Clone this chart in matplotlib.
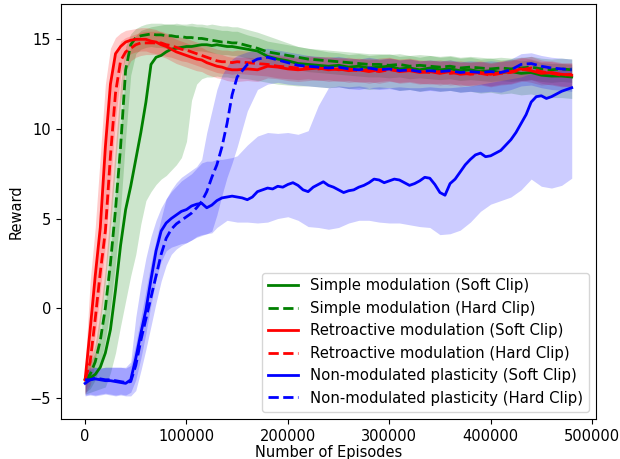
import matplotlib
matplotlib.use("Agg")
import matplotlib.pyplot as plt

# x grid (episodes) for bands and most curves
episodes = list(range(0, 150001, 5000)) + list(range(160000, 480001, 10000))
# finer x grid for the non-modulated soft-clip mean curve
episodes_fine = list(range(0, 480001, 5000))

# Simple modulation (Soft Clip)
gs_mean = [-4.0, -3.9, -3.7, -3.3, -2.5, -1.2, 1.0, 3.5, 5.5, 6.8, 8.3, 9.8, 11.5, 13.6, 14.0, 14.1, 14.3, 14.45, 14.5, 14.55, 14.6, 14.6, 14.65, 14.7, 14.7, 14.65, 14.7, 14.65, 14.6, 14.6, 14.55,
           14.45, 14.35, 14.05, 13.9, 13.8, 13.65, 13.6, 13.55, 13.5, 13.55, 13.45, 13.5, 13.4, 13.45, 13.5, 13.35, 13.4, 13.3, 13.4, 13.3, 13.35, 13.25, 13.3, 13.2, 13.25, 13.15, 13.2, 13.1, 13.15, 13.0, 12.95, 12.95, 12.9]
gs_hi = [-3.4, -3.0, -2.5, -1.5, 0.2, 3.0, 6.5, 10.0, 13.0, 14.6, 15.2, 15.5, 15.6, 15.7, 15.75, 15.8, 15.85, 15.85, 15.9, 15.85, 15.85, 15.9, 15.85, 15.85, 15.8, 15.85, 15.8, 15.75, 15.75, 15.7, 15.7,
         15.55, 15.4, 15.2, 15.0, 14.8, 14.6, 14.5, 14.4, 14.3, 14.25, 14.15, 14.2, 14.1, 14.15, 14.2, 14.05, 14.1, 14.0, 14.1, 14.0, 14.05, 13.95, 14.0, 13.9, 13.95, 13.85, 13.9, 13.8, 13.85, 13.7, 13.65, 13.65, 13.6]
gs_lo = [-4.8, -4.7, -4.6, -4.5, -4.4, -3.6, -2.5, -1.0, 0.4, 1.8, 3.0, 4.7, 6.0, 6.5, 6.9, 7.2, 7.4, 7.7, 8.0, 8.4, 9.3, 11.6, 12.5, 12.8, 12.9, 12.9, 12.95, 12.9, 12.9, 12.85, 12.85,
         12.8, 12.7, 12.6, 12.5, 12.45, 12.4, 12.4, 12.35, 12.3, 12.35, 12.25, 12.3, 12.2, 12.25, 12.3, 12.15, 12.2, 12.1, 12.2, 12.1, 12.15, 12.05, 12.1, 12.0, 12.05, 11.95, 12.0, 11.9, 11.95, 11.8, 11.75, 11.75, 11.7]

# Simple modulation (Hard Clip)
gh_mean = [-4.0, -3.7, -3.0, -1.8, 0.0, 2.5, 5.5, 9.0, 13.3, 14.7, 15.1, 15.2, 15.25, 15.3, 15.25, 15.25, 15.2, 15.2, 15.15, 15.15, 15.1, 15.1, 15.05, 15.05, 15.0, 14.95, 14.9, 14.85, 14.85, 14.8, 14.8,
           14.65, 14.5, 14.3, 14.2, 14.1, 14.0, 13.9, 13.85, 13.8, 13.75, 13.7, 13.65, 13.6, 13.6, 13.55, 13.6, 13.5, 13.55, 13.5, 13.45, 13.5, 13.4, 13.45, 13.4, 13.35, 13.4, 13.35, 13.4, 13.45, 13.35, 13.3, 13.35, 13.3]
gh_hi = [-3.4, -3.0, -2.0, -0.2, 2.2, 5.5, 9.0, 12.5, 14.6, 15.3, 15.6, 15.75, 15.85, 15.9, 15.9, 15.9, 15.85, 15.85, 15.8, 15.8, 15.75, 15.75, 15.7, 15.7, 15.65, 15.6, 15.55, 15.5, 15.5, 15.45, 15.45,
         15.25, 15.1, 14.9, 14.8, 14.7, 14.6, 14.5, 14.45, 14.4, 14.35, 14.3, 14.25, 14.2, 14.2, 14.15, 14.2, 14.1, 14.15, 14.1, 14.05, 14.1, 14.0, 14.05, 14.0, 13.95, 14.0, 13.95, 14.0, 14.05, 13.95, 13.9, 13.95, 13.9]
gh_lo = [-4.7, -4.5, -4.0, -3.2, -1.8, 0.0, 2.5, 5.5, 9.5, 13.0, 14.2, 14.45, 14.55, 14.6, 14.55, 14.55, 14.5, 14.5, 14.45, 14.45, 14.4, 14.4, 14.35, 14.35, 14.3, 14.25, 14.2, 14.15, 14.15, 14.1, 14.1,
         13.95, 13.8, 13.6, 13.5, 13.4, 13.3, 13.2, 13.15, 13.1, 13.05, 13.0, 12.95, 12.9, 12.9, 12.85, 12.9, 12.8, 12.85, 12.8, 12.75, 12.8, 12.7, 12.75, 12.7, 12.65, 12.7, 12.65, 12.7, 12.75, 12.65, 12.6, 12.65, 12.6]

# Retroactive modulation (Soft Clip)
rs_mean = [-4.0, -1.2, 1.8, 4.5, 9.0, 12.5, 14.2, 14.6, 14.85, 14.95, 15.0, 15.0, 15.0, 14.9, 14.85, 14.7, 14.6, 14.45, 14.3, 14.2, 14.1, 14.0, 13.9, 13.85, 13.7, 13.6, 13.5, 13.45, 13.35, 13.3, 13.3,
           13.35, 13.3, 13.5, 13.45, 13.35, 13.3, 13.35, 13.4, 13.3, 13.35, 13.25, 13.3, 13.2, 13.3, 13.35, 13.2, 13.25, 13.15, 13.2, 13.1, 13.2, 13.05, 13.1, 13.15, 13.05, 13.15, 13.2, 13.35, 13.25, 13.1, 13.15, 13.05, 13.0]
rs_hi = [-3.3, 1.5, 4.5, 8.5, 12.5, 14.5, 15.1, 15.35, 15.5, 15.55, 15.6, 15.65, 15.65, 15.6, 15.55, 15.4, 15.3, 15.15, 15.0, 14.9, 14.8, 14.7, 14.6, 14.55, 14.4, 14.3, 14.2, 14.15, 14.05, 14.0, 14.0,
         14.0, 13.95, 14.15, 14.1, 14.0, 13.95, 14.0, 14.05, 13.95, 14.0, 13.9, 13.95, 13.85, 13.95, 14.0, 13.85, 13.9, 13.8, 13.85, 13.75, 13.85, 13.7, 13.75, 13.8, 13.7, 13.8, 13.85, 14.0, 13.9, 13.75, 13.8, 13.7, 13.65]
rs_lo = [-4.8, -3.5, -1.5, 1.0, 3.5, 7.0, 10.5, 13.0, 14.0, 14.2, 14.3, 14.35, 14.35, 14.25, 14.2, 14.05, 13.95, 13.8, 13.65, 13.55, 13.45, 13.35, 13.25, 13.2, 13.05, 12.95, 12.85, 12.8, 12.7, 12.65, 12.65,
         12.7, 12.65, 12.85, 12.8, 12.7, 12.65, 12.7, 12.75, 12.65, 12.7, 12.6, 12.65, 12.55, 12.65, 12.7, 12.55, 12.6, 12.5, 12.55, 12.45, 12.55, 12.4, 12.45, 12.5, 12.4, 12.5, 12.55, 12.7, 12.6, 12.45, 12.5, 12.4, 12.35]

# Retroactive modulation (Hard Clip)
rh_mean = [-4.0, -3.0, -0.6, 2.0, 4.3, 8.5, 12.0, 13.8, 14.3, 14.5, 14.7, 14.8, 14.8, 14.8, 14.8, 14.8, 14.7, 14.65, 14.55, 14.45, 14.4, 14.3, 14.2, 14.1, 14.0, 13.9, 13.8, 13.75, 13.75, 13.7, 13.75,
           13.7, 13.65, 13.6, 13.5, 13.45, 13.4, 13.45, 13.35, 13.4, 13.3, 13.35, 13.25, 13.3, 13.2, 13.3, 13.25, 13.3, 13.2, 13.15, 13.2, 13.1, 13.15, 13.05, 13.1, 13.0, 13.1, 13.15, 13.3, 13.4, 13.2, 13.1, 13.0, 13.05]
rh_hi = [-3.3, -1.0, 2.0, 5.0, 9.0, 12.5, 14.2, 14.9, 15.1, 15.2, 15.3, 15.4, 15.45, 15.45, 15.45, 15.45, 15.35, 15.3, 15.2, 15.1, 15.05, 14.95, 14.85, 14.75, 14.65, 14.55, 14.45, 14.4, 14.4, 14.35, 14.4,
         14.35, 14.3, 14.25, 14.15, 14.1, 14.05, 14.1, 14.0, 14.05, 13.95, 14.0, 13.9, 13.95, 13.85, 13.95, 13.9, 13.95, 13.85, 13.8, 13.85, 13.75, 13.8, 13.7, 13.75, 13.65, 13.75, 13.8, 13.95, 14.05, 13.85, 13.75, 13.65, 13.7]
rh_lo = [-4.8, -4.3, -3.0, -0.8, 1.5, 4.5, 8.0, 11.5, 13.2, 13.8, 14.0, 14.1, 14.15, 14.15, 14.15, 14.15, 14.05, 14.0, 13.9, 13.8, 13.75, 13.65, 13.55, 13.45, 13.35, 13.25, 13.15, 13.1, 13.1, 13.05, 13.1,
         13.05, 13.0, 12.95, 12.85, 12.8, 12.75, 12.8, 12.7, 12.75, 12.65, 12.7, 12.6, 12.65, 12.55, 12.65, 12.6, 12.65, 12.55, 12.5, 12.55, 12.45, 12.5, 12.4, 12.45, 12.35, 12.45, 12.5, 12.65, 12.75, 12.55, 12.45, 12.35, 12.4]

# Non-modulated plasticity (Soft Clip) - mean on the fine grid
bs_mean = [-4.2, -4.0, -3.95, -4.0, -4.05, -4.05, -4.1, -4.15, -4.2, -4.0, -2.8, -1.4, -0.1, 1.6, 3.2, 4.3, 4.75, 5.0, 5.2, 5.4,
           5.5, 5.7, 5.8, 5.85, 5.6, 5.75, 6.0, 6.15, 6.2, 6.25, 6.2, 6.15, 6.05, 6.2, 6.5, 6.6, 6.7, 6.65, 6.8, 6.75,
           6.9, 7.0, 6.85, 6.6, 6.5, 6.75, 6.9, 7.05, 6.85, 6.75, 6.6, 6.45, 6.55, 6.6, 6.75, 6.85, 7.0, 7.2, 7.15, 7.0,
           7.1, 7.2, 7.15, 7.0, 6.85, 6.95, 7.1, 7.3, 7.25, 6.9, 6.45, 6.3, 6.95, 7.2, 7.6, 8.0, 8.3, 8.55, 8.65, 8.45,
           8.5, 8.65, 8.8, 9.1, 9.4, 9.8, 10.3, 10.8, 11.5, 11.8, 11.85, 11.7, 11.8, 11.95, 12.1, 12.2, 12.3]
bs_hi = [-3.6, -3.4, -3.3, -3.35, -3.3, -3.3, -3.3, -3.3, -3.3, -3.0, -0.5, 1.3, 2.8, 4.0, 4.9, 5.6, 6.1, 6.5, 6.8, 7.1, 7.3, 7.5, 7.8, 8.1, 8.2, 8.2, 8.3, 8.3, 8.35, 8.4, 8.5,
         9.1, 9.6, 9.8, 9.75, 9.8, 9.7, 9.9, 11.3, 12.3, 12.4, 12.35, 12.4, 12.3, 12.35, 12.3, 12.35, 12.3, 12.3, 12.35, 12.3, 12.3, 12.35, 12.4, 12.5, 12.6, 12.7, 12.8, 12.9, 13.1, 13.2, 13.3, 13.3, 13.5]
bs_lo = [-4.85, -4.8, -4.85, -4.8, -4.75, -4.8, -4.85, -4.8, -4.85, -4.7, -4.0, -2.8, -1.4, 0.2, 1.6, 2.6, 3.2, 3.4, 3.5, 3.6, 3.65, 3.8, 4.0, 4.1, 4.15, 4.2, 4.5, 4.7, 4.9, 4.85, 4.8,
         4.8, 4.75, 4.8, 5.0, 5.1, 4.9, 4.55, 4.5, 4.4, 4.5, 4.75, 4.9, 4.9, 4.8, 4.75, 4.75, 4.65, 4.55, 4.5, 4.1, 4.15, 4.35, 4.8, 5.4, 5.8, 6.0, 6.2, 6.6, 7.2, 6.8, 6.7, 6.85, 7.25]

# Non-modulated plasticity (Hard Clip)
bh_mean = [-4.0, -4.0, -3.9, -3.95, -4.0, -4.0, -4.05, -4.1, -4.15, -4.1, -3.2, -1.8, -0.6, 0.6, 1.8, 3.0, 3.9, 4.4, 4.7, 4.9, 5.1, 5.3, 5.6, 5.95, 6.5, 7.3, 8.0, 9.0, 10.3, 11.9, 12.9,
           13.6, 13.9, 14.0, 13.85, 13.7, 13.55, 13.5, 13.45, 13.4, 13.45, 13.35, 13.3, 13.4, 13.3, 13.35, 13.25, 13.3, 13.2, 13.25, 13.2, 13.25, 13.15, 13.2, 13.15, 13.2, 13.15, 13.3, 13.6, 13.65, 13.5, 13.4, 13.35, 13.3]
bh_hi = [-3.5, -3.3, -3.3, -3.35, -3.3, -3.3, -3.3, -3.3, -3.35, -3.2, -2.0, -0.5, 1.0, 2.5, 3.8, 5.0, 6.1, 6.6, 7.0, 7.3, 7.5, 7.7, 7.9, 8.3, 9.8, 11.0, 12.2, 13.0, 13.5, 13.9, 14.1,
         14.3, 14.45, 14.5, 14.4, 14.3, 14.2, 14.1, 14.05, 14.0, 14.05, 13.95, 13.9, 14.0, 13.9, 13.95, 13.85, 13.9, 13.8, 13.85, 13.8, 13.85, 13.75, 13.8, 13.75, 13.8, 13.75, 13.9, 14.2, 14.25, 14.1, 14.0, 13.95, 13.9]
bh_lo = [-4.9, -4.85, -4.9, -4.85, -4.8, -4.85, -4.9, -4.85, -4.9, -4.9, -4.6, -3.5, -2.3, -1.0, 0.3, 1.5, 2.4, 3.0, 3.3, 3.5, 3.65, 3.8, 3.95, 4.05, 4.15, 4.3, 5.2, 6.3, 7.3, 8.1, 9.0,
         11.0, 12.2, 12.5, 12.6, 12.5, 12.45, 12.4, 12.35, 12.3, 12.35, 12.25, 12.2, 12.3, 12.2, 12.25, 12.15, 12.2, 12.1, 12.15, 12.1, 12.15, 12.05, 12.1, 12.05, 12.1, 12.05, 12.2, 12.4, 12.45, 12.3, 12.2, 12.15, 12.1]

labels = ["Simple modulation (Soft Clip)", "Simple modulation (Hard Clip)",
          "Retroactive modulation (Soft Clip)", "Retroactive modulation (Hard Clip)",
          "Non-modulated plasticity (Soft Clip)", "Non-modulated plasticity (Hard Clip)"]

series = [
    (episodes, gs_mean, gs_lo, gs_hi, "green", "-"),
    (episodes, gh_mean, gh_lo, gh_hi, "green", "--"),
    (episodes, rs_mean, rs_lo, rs_hi, "red", "-"),
    (episodes, rh_mean, rh_lo, rh_hi, "red", "--"),
    (episodes_fine, bs_mean, bs_lo, bs_hi, "blue", "-"),
    (episodes, bh_mean, bh_lo, bh_hi, "blue", "--"),
]

plt.rcParams['font.family'] = ['DejaVu Sans']
fig = plt.figure(figsize=(6.2, 4.59), dpi=100)
ax = fig.add_axes([0.098, 0.0871, 0.8634, 0.9041])

for (xs, m, lo, hi, c, ls), lab in zip(series, labels):
    ax.fill_between(episodes, lo, hi, color=c, alpha=0.2, linewidth=0)
    ax.plot(xs, m, color=c, linestyle=ls, linewidth=2, label=lab)

ax.set_xlim(-24000, 504000)
ax.set_ylim(-6.19, 16.97)
ax.set_xticks([0, 100000, 200000, 300000, 400000, 500000])
ax.set_yticks([-5, 0, 5, 10, 15])
ax.tick_params(labelsize=10.5)
ax.set_xlabel("Number of Episodes", fontsize=10.5, labelpad=1)
ax.set_ylabel("Reward", fontsize=10.5)
ax.legend(loc="lower right", fontsize=10.7)

fig.savefig("out.png", dpi=100)
